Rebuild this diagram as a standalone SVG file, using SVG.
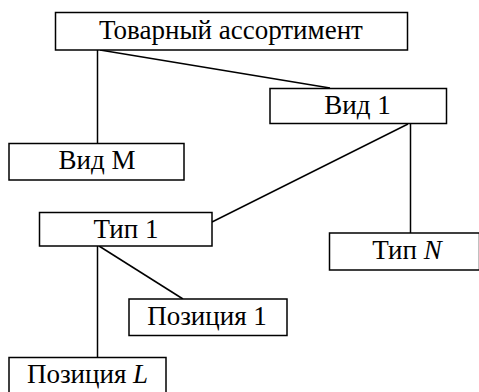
<svg xmlns="http://www.w3.org/2000/svg" width="479" height="392" viewBox="0 0 479 392">
<style>
rect{fill:#fff;stroke:#000;stroke-width:1.5}
line{stroke:#000;stroke-width:1.5}
text{font-family:'Liberation Serif','Times New Roman',serif;font-size:27px;fill:#000;text-anchor:middle}
</style>
<rect x="0" y="0" width="479" height="392" style="stroke:none"/>
<g id="connectors">
<line x1="97.5" y1="50" x2="97.5" y2="143"/>
<line x1="100" y1="50" x2="330" y2="88"/>
<line x1="410.5" y1="124" x2="410.5" y2="233"/>
<line x1="408" y1="124" x2="212" y2="222"/>
<line x1="97.5" y1="246" x2="97.5" y2="357"/>
<line x1="99" y1="246" x2="183" y2="299"/>
</g>
<g id="n-root"><rect x="55.5" y="12.5" width="352" height="37.5"/><text x="231" y="39">Товарный ассортимент</text></g>
<g id="n-vid1"><rect x="270" y="88.5" width="176.5" height="35"/><text x="357.5" y="113.5">Вид 1</text></g>
<g id="n-vidM"><rect x="9" y="143.5" width="175" height="36.5"/><text x="97" y="168.5">Вид М</text></g>
<g id="n-tip1"><rect x="39.5" y="212.5" width="172.5" height="33.5"/><text x="126" y="237.5">Тип 1</text></g>
<g id="n-tipN"><rect x="329.5" y="233" width="150" height="37"/><text x="407" y="259">Тип <tspan font-style="italic">N</tspan></text></g>
<g id="n-pos1"><rect x="129" y="299" width="158" height="36.5"/><text x="207" y="325">Позиция 1</text></g>
<g id="n-posL"><rect x="9" y="357.5" width="157" height="40"/><text x="87.5" y="383">Позиция <tspan font-style="italic">L</tspan></text></g>
</svg>
